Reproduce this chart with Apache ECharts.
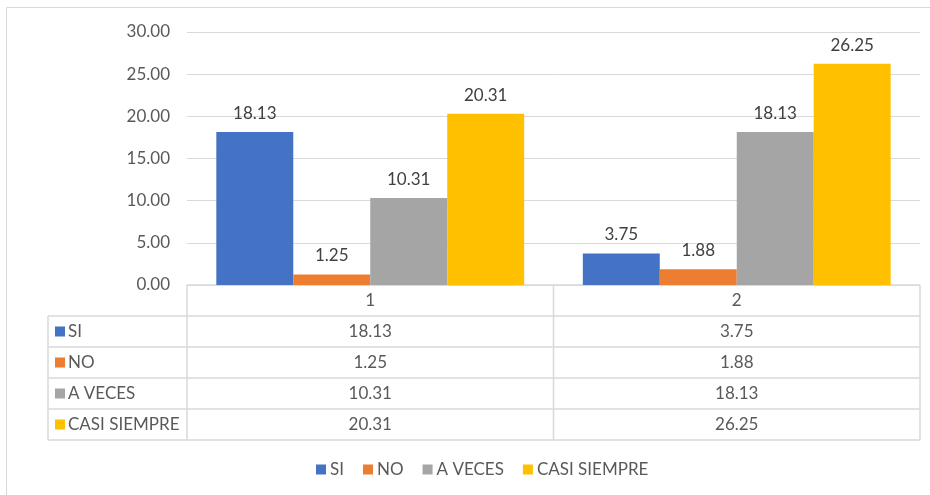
<!DOCTYPE html>
<html><head><meta charset="utf-8">
<script src="https://cdn.jsdelivr.net/npm/echarts@6/dist/echarts.min.js"></script>
<style>html,body{margin:0;padding:0;background:#fff}#c{width:930px;height:495px}</style>
</head><body><div id="c"></div>
<script>
var categories = ['1', '2'];
var seriesNames = ['SI', 'NO', 'A VECES', 'CASI SIEMPRE'];
var si = [18.13, 3.75];
var no = [1.25, 1.88];
var aveces = [10.31, 18.13];
var casiSiempre = [20.31, 26.25];
var yTicks = [0, 5, 10, 15, 20, 25, 30];

var colors = ['#4472C4', '#ED7D31', '#A5A5A5', '#FFC000'];
var seriesData = [si, no, aveces, casiSiempre];
var FONT = 'Lato, "Open Sans", sans-serif';
var FS = 17;

var chart = echarts.init(document.getElementById('c'));
var gridLeft = 187, gridRight = 10, gridTop = 32, gridBottom = 210;

chart.setOption({
  animation: false,
  textStyle: { fontFamily: FONT },
  grid: { left: gridLeft, right: gridRight, top: gridTop, bottom: gridBottom, containLabel: false },
  xAxis: {
    type: 'category', data: categories,
    axisLine: { show: false }, axisTick: { show: false }, axisLabel: { show: false }
  },
  yAxis: {
    type: 'value', min: yTicks[0], max: yTicks[yTicks.length - 1], interval: 5,
    axisLine: { show: false }, axisTick: { show: false },
    axisLabel: { formatter: function (v) { return v.toFixed(2); }, color: '#595959', fontSize: FS, margin: 17, fontFamily: FONT },
    splitLine: { lineStyle: { color: '#D9D9D9', width: 1 } }
  },
  legend: {
    top: 461, left: 316, padding: 0, itemWidth: 10, itemHeight: 10, itemGap: 19,
    icon: 'rect',
    textStyle: { color: '#595959', fontSize: FS, fontFamily: FONT, padding: [0, 0, 0, -1] },
    data: seriesNames
  },
  series: seriesNames.map(function (n, i) {
    return {
      name: n, type: 'bar', data: seriesData[i],
      barGap: '0%', barCategoryGap: '16%',
      itemStyle: { color: colors[i] },
      label: { show: true, position: 'top', distance: 10, color: '#404040', fontSize: FS, fontFamily: FONT,
        formatter: function (p) { return p.value.toFixed(2); } }
    };
  })
});

// Data table drawn below the plot, aligned with the category axis
function buildTable() {
  var y0 = chart.convertToPixel({ yAxisIndex: 0 }, 0);
  var rowH = 31;
  var leftX = 48;
  var x0 = gridLeft;
  var x1 = 930 - gridRight;
  var colW = (x1 - x0) / categories.length;
  var lc = '#D9D9D9';
  var els = [];
  var nRows = seriesNames.length;
  var bottomY = y0 + rowH * (nRows + 1);
  els.push({ type: 'line', shape: { x1: x0, y1: y0, x2: x1, y2: y0 }, style: { stroke: lc, lineWidth: 1.5 } });
  for (var r = 1; r <= nRows + 1; r++) {
    var y = y0 + rowH * r;
    els.push({ type: 'line', shape: { x1: leftX, y1: y, x2: x1, y2: y }, style: { stroke: lc, lineWidth: 1.5 } });
  }
  els.push({ type: 'line', shape: { x1: leftX, y1: y0 + rowH, x2: leftX, y2: bottomY }, style: { stroke: lc, lineWidth: 1.5 } });
  for (var c = 0; c <= categories.length; c++) {
    var x = x0 + colW * c;
    els.push({ type: 'line', shape: { x1: x, y1: y0, x2: x, y2: bottomY }, style: { stroke: lc, lineWidth: 1.5 } });
  }
  categories.forEach(function (cat, ci) {
    var cx = chart.convertToPixel({ xAxisIndex: 0 }, cat);
    els.push({ type: 'text', style: { x: cx, y: y0 + rowH / 2, text: cat, align: 'center', verticalAlign: 'middle', fill: '#595959', fontSize: FS, fontFamily: FONT } });
    seriesData.forEach(function (arr, si2) {
      els.push({ type: 'text', style: { x: cx, y: y0 + rowH * (si2 + 1) + rowH / 2, text: arr[ci].toFixed(2), align: 'center', verticalAlign: 'middle', fill: '#595959', fontSize: FS, fontFamily: FONT } });
    });
  });
  seriesNames.forEach(function (n, i) {
    var cy = y0 + rowH * (i + 1) + rowH / 2;
    els.push({ type: 'rect', shape: { x: 55, y: cy - 5, width: 10, height: 10 }, style: { fill: colors[i] } });
    els.push({ type: 'text', style: { x: 68, y: cy, text: n, align: 'left', verticalAlign: 'middle', fill: '#595959', fontSize: FS, fontFamily: FONT } });
  });
  els.push({ type: 'rect', shape: { x: 6.5, y: 7.5, width: 940, height: 520 }, style: { fill: null, stroke: '#D9D9D9', lineWidth: 1 }, z: -1 });
  chart.setOption({ graphic: { elements: els } });
}
buildTable();
</script>
</body></html>
